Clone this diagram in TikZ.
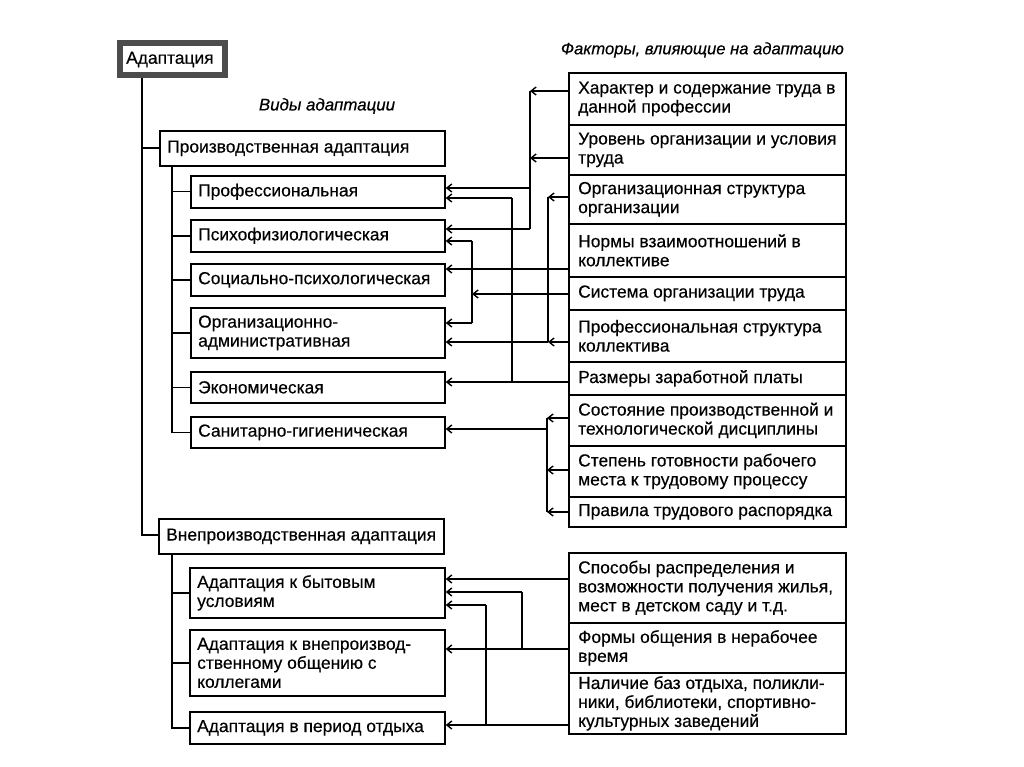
\documentclass[tikz,border=0pt]{standalone}
\usepackage{fontspec}
\setmainfont{Liberation Sans}[FakeBold=0.35, ItalicFeatures={FakeBold=0.35}]
\usetikzlibrary{arrows.meta}
\newcommand{\fs}{\fontsize{17.4}{19}\selectfont}
\tikzset{
  box/.style={draw, line width=1.7pt, fill=white, inner sep=0pt, anchor=north west},
  txt/.style={font=\fs, align=left, inner sep=0pt, anchor=west},
  head/.style={font=\fontsize{16.6}{19}\selectfont\itshape, inner sep=0pt},
  ln/.style={line width=1.6pt},
  tree/.style={line width=1.3pt},
  arr/.style={line width=1.6pt, -{Straight Barb[length=5pt,width=8pt,line width=1.4pt]}},
}
\begin{document}
\begin{tikzpicture}[x=1pt,y=-1pt]
\fill[white] (0,0) rectangle (1024,767);
\useasboundingbox (0,0) rectangle (1024,767);

% headings
\node[head, font=\fontsize{16.9}{19}\selectfont\itshape] (h1) at (327,106) {Виды адаптации};
\node[head, anchor=east] (h2) at (844,50) {Факторы, влияющие на адаптацию};

% root
\node[draw=black!70, line width=6pt, fill=white, minimum width=105pt, minimum height=32pt, inner sep=0pt] (root) at (172.5,59.5) {};
\node[txt] (troot) at ([xshift=9pt]root.west) {Адаптация};

% level 1
\node[box, minimum width=285pt, minimum height=35pt] (prod) at (159,130) {};
\node[txt] (tprod) at ([xshift=8pt]prod.west) {Производственная адаптация};
\node[box, minimum width=285pt, minimum height=35pt] (vne) at (158,518) {};
\node[txt] (tvne) at ([xshift=8pt]vne.west) {Внепроизводственная адаптация};

% production kinds
\node[box, minimum width=254pt, minimum height=32pt] (prof) at (190,175) {};
\node[txt] (tprof) at ([xshift=8pt]prof.west) {Профессиональная};
\node[box, minimum width=254pt, minimum height=32pt] (psy) at (190,219) {};
\node[txt] (tpsy) at ([xshift=8pt]psy.west) {Психофизиологическая};
\node[box, minimum width=254pt, minimum height=32pt] (soc) at (190,263) {};
\node[txt] (tsoc) at ([xshift=8pt]soc.west) {Социально-психологическая};
\node[box, minimum width=254pt, minimum height=50pt] (org) at (190,307) {};
\node[txt] (torg) at ([xshift=8pt]org.west) {Организационно-\\административная};
\node[box, minimum width=254pt, minimum height=31pt] (eco) at (190,371) {};
\node[txt] (teco) at ([xshift=8pt]eco.west) {Экономическая};
\node[box, minimum width=254pt, minimum height=31pt] (san) at (190,416) {};
\node[txt] (tsan) at ([xshift=8pt]san.west) {Санитарно-гигиеническая};

% non-production kinds
\node[box, minimum width=255pt, minimum height=50pt] (byt) at (189,567) {};
\node[txt] (tbyt) at ([xshift=8pt]byt.west) {Адаптация к бытовым\\условиям};
\node[box, minimum width=255pt, minimum height=66pt] (obs) at (189,629) {};
\node[txt] (tobs) at ([xshift=8pt]obs.west) {Адаптация к внепроизвод-\\ственному общению с\\коллегами};
\node[box, minimum width=255pt, minimum height=32pt] (otd) at (189,711) {};
\node[txt] (totd) at ([xshift=8pt]otd.west) {Адаптация в период отдыха};

% factors
\node[box, minimum width=277pt, minimum height=52pt] (f1) at (568,72) {};
\node[txt] (tf1) at ([xshift=10pt]f1.west) {Характер и содержание труда в\\данной профессии};
\node[box, minimum width=277pt, minimum height=50pt] (f2) at (568,124) {};
\node[txt] (tf2) at ([xshift=10pt]f2.west) {Уровень организации и условия\\труда};
\node[box, minimum width=277pt, minimum height=49pt] (f3) at (568,174) {};
\node[txt] (tf3) at ([xshift=10pt]f3.west) {Организационная структура\\организации};
\node[box, minimum width=277pt, minimum height=53pt] (f4) at (568,223) {};
\node[txt] (tf4) at ([xshift=10pt]f4.west) {Нормы взаимоотношений в\\коллективе};
\node[box, minimum width=277pt, minimum height=33pt] (f5) at (568,276) {};
\node[txt] (tf5) at ([xshift=10pt]f5.west) {Система организации труда};
\node[box, minimum width=277pt, minimum height=52pt] (f6) at (568,309) {};
\node[txt] (tf6) at ([xshift=10pt]f6.west) {Профессиональная структура\\коллектива};
\node[box, minimum width=277pt, minimum height=33pt] (f7) at (568,361) {};
\node[txt] (tf7) at ([xshift=10pt]f7.west) {Размеры заработной платы};
\node[box, minimum width=277pt, minimum height=51pt] (f8) at (568,394) {};
\node[txt] (tf8) at ([xshift=10pt]f8.west) {Состояние производственной и\\технологической дисциплины};
\node[box, minimum width=277pt, minimum height=51pt] (f9) at (568,445) {};
\node[txt] (tf9) at ([xshift=10pt]f9.west) {Степень готовности рабочего\\места к трудовому процессу};
\node[box, minimum width=277pt, minimum height=30pt] (f10) at (568,496) {};
\node[txt] (tf10) at ([xshift=10pt]f10.west) {Правила трудового распорядка};

\node[box, minimum width=277pt, minimum height=70pt] (g1) at (568,552) {};
\node[txt] (tg1) at ([xshift=10pt]g1.west) {Способы распределения и\\возможности получения жилья,\\мест в детском саду и т.д.};
\node[box, minimum width=277pt, minimum height=50pt] (g2) at (568,622) {};
\node[txt] (tg2) at ([xshift=10pt]g2.west) {Формы общения в нерабочее\\время};
\node[box, minimum width=277pt, minimum height=61pt] (g3) at (568,672) {};
\node[txt] (tg3) at ([xshift=10pt]g3.west) {Наличие баз отдыха, поликли-\\ники, библиотеки, спортивно-\\культурных заведений};

% tree lines
\coordinate (m1) at (142,148);
\coordinate (m2) at (142,535);
\draw[tree] (root.south -| m1) -- (m2) -- (m2 -| vne.west);
\draw[tree] (m1) -- (m1 -| prod.west);
\coordinate (s0) at (172,165);
\draw[tree] (s0) |- (san.west);
\foreach \n in {prof,psy,soc,org,eco} \draw[tree] (s0 |- \n.west) -- (\n.west);
\coordinate (s1) at (172,553);
\draw[tree] (s1) |- (otd.west);
\foreach \n in {byt,obs} \draw[tree] (s1 |- \n.west) -- (\n.west);

% bus A (x=530): f1, f2 -> prof, psy
\coordinate (aT) at (530,91);
\coordinate (aU) at (530,158);
\coordinate (aP) at (530,188);
\coordinate (aS) at (530,229);
\draw[arr] (f1.west |- aT) -- (aT);
\draw[arr] (f2.west |- aU) -- (aU);
\draw[ln] (aT) -- (aS);
\draw[arr] (aP) -- (prof.east |- aP);
\draw[arr] (aS) -- (psy.east |- aS);

% bus B (x=512): f7 -> eco, prof
\coordinate (bE) at (512,382);
\coordinate (bP) at (512,198);
\draw[arr] (f7.west |- bE) -- (eco.east |- bE);
\draw[ln] (bE) -- (bP);
\draw[arr] (bP) -- (prof.east |- bP);

% bus C (x=548): f3, f6 -> org
\coordinate (cT) at (548,197);
\coordinate (cB) at (548,342);
\draw[arr] (f3.west |- cT) -- (cT);
\draw[arr] (f6.west |- cB) -- (cB);
\draw[ln] (cT) -- (cB);
\draw[arr] (cB) -- (org.east |- cB);

% bus D (x=472): f5 -> psy, org
\coordinate (dT) at (472,241);
\coordinate (dM) at (472,294);
\coordinate (dB) at (472,323);
\draw[arr] (f5.west |- dM) -- (dM);
\draw[ln] (dT) -- (dB);
\draw[arr] (dT) -- (psy.east |- dT);
\draw[arr] (dB) -- (org.east |- dB);

% f4 -> soc
\coordinate (eS) at (500,269);
\draw[arr] (f4.west |- eS) -- (soc.east |- eS);

% bus E (x=547): f8, f9, f10 -> san
\coordinate (e1) at (547,418);
\coordinate (e2) at (547,470);
\coordinate (e3) at (547,512);
\coordinate (eX) at (547,429);
\draw[arr] (f8.west |- e1) -- (e1);
\draw[arr] (f9.west |- e2) -- (e2);
\draw[arr] (f10.west |- e3) -- (e3);
\draw[ln] (e1) -- (e3);
\draw[arr] (eX) -- (san.east |- eX);

% bottom
\coordinate (g1y) at (500,579);
\draw[arr] (g1.west |- g1y) -- (byt.east |- g1y);
\coordinate (hB) at (522,649);
\coordinate (hT) at (522,592);
\draw[arr] (g2.west |- hB) -- (obs.east |- hB);
\draw[ln] (hB) -- (hT);
\draw[arr] (hT) -- (byt.east |- hT);
\coordinate (kB) at (486,725);
\coordinate (kT) at (486,605);
\draw[arr] (g3.west |- kB) -- (otd.east |- kB);
\draw[ln] (kB) -- (kT);
\draw[arr] (kT) -- (byt.east |- kT);
\end{tikzpicture}
\end{document}
